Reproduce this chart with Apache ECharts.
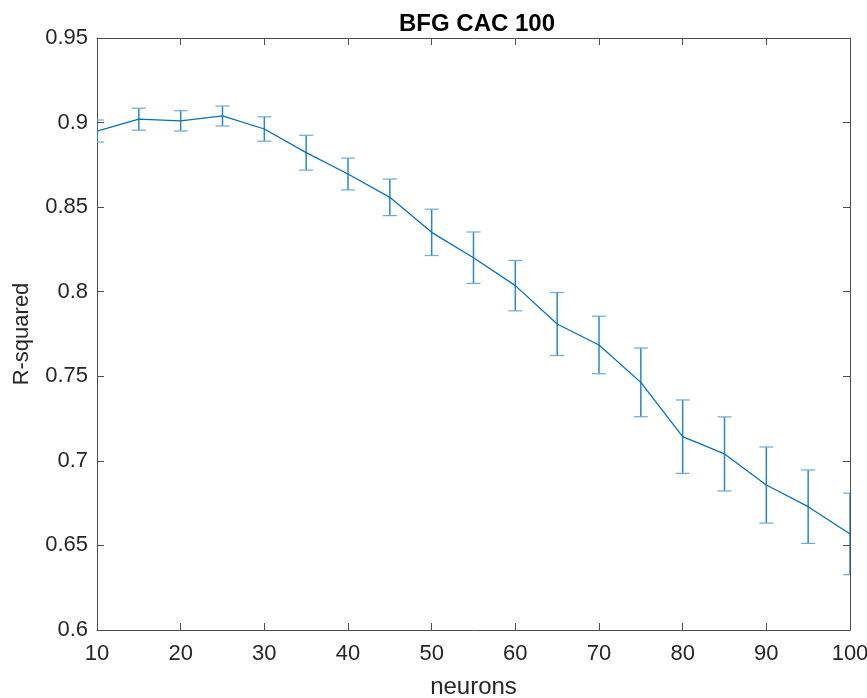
<!DOCTYPE html>
<html><head><meta charset="utf-8">
<script src="https://cdn.jsdelivr.net/npm/echarts@6/dist/echarts.min.js"></script>
<style>html,body{margin:0;padding:0;background:#fff}#c{width:867px;height:698px}</style>
</head><body><div id="c"></div>
<script>
const neurons = [10,15,20,25,30,35,40,45,50,55,60,65,70,75,80,85,90,95,100];
const rsq = [0.895,0.902,0.901,0.9039,0.8962,0.8822,0.8696,0.8558,0.8351,0.8201,0.8036,0.7809,0.7685,0.7464,0.7143,0.7041,0.6857,0.6729,0.6568];
const err = [0.0065,0.0065,0.006,0.0059,0.0072,0.0103,0.0094,0.0108,0.0137,0.0152,0.0149,0.0186,0.017,0.0203,0.0217,0.0219,0.0225,0.0217,0.0241];
const xTicks = [10,20,30,40,50,60,70,80,90,100];
const yTicks = [0.6,0.65,0.7,0.75,0.8,0.85,0.9,0.95];

const blue = '#0072BD';
const axisCol = '#4d4d4d';
const font = 'Liberation Sans, Arial, sans-serif';

const chart = echarts.init(document.getElementById('c'));
const baseAxis = {
  axisLine:{show:true,onZero:false,lineStyle:{color:axisCol,width:1}},
  axisTick:{show:true,inside:true,length:7,lineStyle:{color:axisCol}},
  splitLine:{show:false}
};
chart.setOption({
  animation:false,
  title:{text:'BFG CAC 100',left:472,top:7,textAlign:'center',
    textStyle:{fontFamily:font,fontWeight:'bold',fontSize:24,color:'#000'}},
  grid:{left:97,right:17,top:38,bottom:68,containLabel:false,outerBoundsMode:'none'},
  xAxis:[
    Object.assign({},baseAxis,{type:'value',min:10,max:100,interval:10,position:'bottom',
      name:'neurons',nameLocation:'middle',nameGap:45,
      nameTextStyle:{fontFamily:font,fontSize:24,color:'#262626'},
      axisLabel:{fontFamily:font,fontSize:22,color:'#262626',margin:13,
        formatter:v=>xTicks.includes(v)?String(v):''}}),
    Object.assign({},baseAxis,{type:'value',min:10,max:100,interval:10,position:'top',
      axisLabel:{show:false}})
  ],
  yAxis:[
    Object.assign({},baseAxis,{type:'value',min:0.6,max:0.95,interval:0.05,position:'left',
      name:'R-squared',nameLocation:'middle',nameGap:64,nameRotate:90,
      nameTextStyle:{fontFamily:font,fontSize:22,color:'#262626'},
      axisLabel:{fontFamily:font,fontSize:22,color:'#262626',margin:9,
        formatter:v=>{const t=yTicks.find(k=>Math.abs(k-v)<1e-9);return t===undefined?'':String(t);}}}),
    Object.assign({},baseAxis,{type:'value',min:0.6,max:0.95,interval:0.05,position:'right',
      axisLabel:{show:false}})
  ],
  series:[
    {type:'custom',xAxisIndex:0,yAxisIndex:0,clip:true,
      data:neurons.map((x,i)=>[x,rsq[i]-err[i],rsq[i]+err[i]]),
      renderItem:(params,api)=>{
        const lo=api.coord([api.value(0),api.value(1)]);
        const hi=api.coord([api.value(0),api.value(2)]);
        const w=7;
        const st={stroke:'#6aaad9',lineWidth:1.2};
        return {type:'group',children:[
          {type:'line',shape:{x1:lo[0],y1:lo[1],x2:hi[0],y2:hi[1]},style:{stroke:'#2a86c8',lineWidth:1.5}},
          {type:'line',shape:{x1:lo[0]-w,y1:lo[1],x2:lo[0]+w,y2:lo[1]},style:st},
          {type:'line',shape:{x1:hi[0]-w,y1:hi[1],x2:hi[0]+w,y2:hi[1]},style:st}
        ]};
      },z:2},
    {type:'line',xAxisIndex:0,yAxisIndex:0,data:neurons.map((x,i)=>[x,rsq[i]]),
      showSymbol:false,symbol:'none',lineStyle:{color:blue,width:1.3},z:3}
  ]
});
</script></body></html>
